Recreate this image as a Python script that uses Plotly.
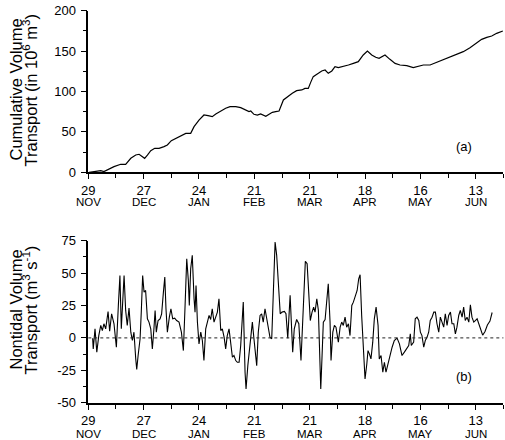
import plotly.graph_objects as go

# ---------------- data (days since 29 Nov) ----------------
cum_day = [0.4, 2.9, 6.3, 7.9, 10.5, 13.0, 16.4, 18.9, 21.5, 24.0, 25.7, 27.3, 28.5, 29.9, 31.6,
           33.6, 35.8, 38.3, 40.0, 42.0, 44.2, 46.8, 49.3, 51.8, 53.5, 56.0, 58.5, 60.6, 62.7, 64.5,
           67.0, 69.5, 71.7, 74.6, 77.1, 79.6, 81.3, 82.2, 83.8, 85.5, 87.2, 89.8, 91.4, 93.1, 94.8,
           96.5, 98.7, 100.7, 103.2, 105.4, 108.0, 109.6, 111.3, 112.5, 113.8, 116.4, 118.1, 119.8,
           121.4, 123.2, 124.8, 126.5, 129.0, 131.6, 134.1, 136.6, 139.1, 141.2, 143.4, 145.4, 147.1,
           150.1, 152.6, 155.2, 157.7, 161.1, 164.4, 167.0, 169.5, 172.9, 176.3, 179.6, 183.0, 186.4,
           189.7, 193.1, 196.5, 199.0, 201.6, 204.1, 206.6, 209.7]
cum_val = [0, 0.8, 2.1, 0.8, 4.1, 7.0, 9.9, 9.9, 17.3, 21.4, 22.3, 19.4, 17.3, 21.4, 26.8,
           29.7, 29.7, 31.8, 33.8, 39.2, 42.1, 45.4, 48.2, 48.2, 56.5, 64.7, 70.9, 70.1, 68.9, 72.2,
           75.9, 79.2, 81.2, 81.2, 80.0, 77.1, 75.1, 75.9, 71.8, 70.9, 72.2, 69.3, 71.8, 74.2, 75.1,
           75.9, 89.5, 93.6, 97.7, 101.0, 101.9, 103.9, 103.9, 111.3, 118.4, 122.5, 125.4, 126.6,
           122.5, 125.4, 130.7, 129.5, 130.7, 132.8, 134.8, 136.9, 145.2, 150.1, 145.2, 142.3, 141.0,
           145.2, 139.8, 134.8, 132.8, 132.0, 129.5, 130.7, 132.8, 132.8, 136.1, 139.8, 143.1, 146.0,
           149.3, 154.2, 160.8, 164.5, 167.0, 168.7, 172.0, 174.8]

flow_day = [2.2, 2.5, 3.4, 4.3, 5.3, 6.3, 7.1, 7.9, 8.8, 10.0, 10.8, 11.8, 13.0, 14.2, 15.2,
            16.0, 16.7, 17.6, 18.1, 18.9, 19.7, 20.6, 21.5, 22.3, 23.1, 24.0, 24.5, 25.2, 26.2, 26.8,
            27.5, 28.2, 29.0, 29.9, 30.7, 31.6, 32.4, 33.2, 33.8, 34.4, 35.3, 36.3, 37.1, 38.0, 38.7,
            39.3, 40.0, 41.0, 41.8, 42.7, 43.7, 44.7, 45.9, 47.1, 48.1,
            48.9, 49.8, 50.6, 51.1, 51.8, 52.6, 53.5, 54.0, 54.5, 55.2, 56.0, 56.9, 57.7, 58.5, 59.4,
            60.2, 61.1, 61.9, 62.7, 63.6, 64.5, 65.3, 66.1, 67.0, 67.8, 68.7, 69.5, 70.3, 71.2, 72.1,
            72.9, 73.7, 74.6, 75.4, 76.3, 77.1, 77.9, 78.4, 79.3, 79.8, 80.7, 81.5, 82.3, 83.0, 83.8,
            84.5, 85.2, 86.0, 86.9, 87.7, 88.5, 89.4, 90.3, 91.1, 91.9, 92.8, 93.6, 94.5, 95.3, 96.1,
            97.1, 98.0, 99.2, 100.0, 100.9, 102.1, 103.4, 104.2, 105.4, 106.5, 107.6, 109.8, 110.7,
            111.5, 112.3, 113.2, 114.0, 114.7, 115.6, 116.4, 117.1, 117.6, 118.2, 118.9, 119.8, 120.6,
            121.4, 122.3, 122.8, 123.7, 124.5, 125.3, 126.5, 127.4, 128.2, 129.0, 129.9, 130.7, 131.6,
            132.4, 133.3, 134.1, 134.9, 136.0, 136.8, 137.5, 138.3, 139.1, 140.0, 140.9, 141.5, 142.2,
            143.0, 143.9, 144.7, 145.6,
            146.6, 147.2, 148.1, 149.0, 149.8, 150.6, 151.5, 152.5, 153.7, 154.8, 156.2, 157.4, 158.7,
            159.9, 161.2, 162.1, 162.9, 163.4, 164.6, 165.4, 166.3, 167.2, 168.0, 168.8, 169.7, 170.5,
            171.4, 172.2, 173.0, 173.9, 174.8, 175.6, 176.4, 177.3, 178.1, 179.0, 179.8, 180.6, 181.5,
            182.3, 183.2, 184.0, 184.9, 185.7, 186.5, 187.4, 188.2, 189.1, 189.9, 190.7, 191.6, 192.5,
            193.3, 194.1, 195.0, 195.8, 196.7, 198.2, 199.5, 200.7, 201.9, 203.2, 204.3]
flow_val = [-0.2, -8.5, 7.0, -11.0, 1.8, 9.6, 5.7, 10.9, 7.0, 20.4, 5.2, 18.6, 10.9, -7.2, 25.0,
            48.2, 7.0, 31.5, 48.2, 21.2, 9.6, 23.0, 4.4, -2.0, 4.4, -16.2, -24.4, -13.6, -0.7, 19.9,
            48.2, 35.3, 36.6, 14.7, 12.2, 7.0, -8.5, 7.0, 21.2, 4.4, 13.4, 14.7, 18.6, 35.3, 46.9,
            22.5, 4.4, 16.0, 22.5, 14.7, 15.2, 13.4, 12.2, 4.4, -9.8,
            22.5, 61.1, 44.4, 25.0, 53.4, 63.7, 30.2, 19.9, 40.5, 12.2, -4.6, 4.4, -2.0, -17.5, 7.0,
            12.2, 17.3, 14.2, 22.5, 12.2, 16.0, 19.9, 30.2, 5.7, 7.0, 0.6, -8.5, 1.8, 7.0, -3.3,
            -14.9, -13.6, -17.5, -18.8, -18.8, -5.9, 14.7, 27.6, -26.5, -39.4, -21.4, -8.5, 7.0, 12.2, -0.7,
            -11.0, -21.4, 4.4, 17.3, 18.6, 12.2, 22.5, 14.7, 7.0, 0.6, -0.7, 43.1, 74.0, 63.7, 43.1,
            18.6, 19.9, 20.4, 18.6, -0.2, 32.8, -11.0, 7.0, 14.2, 10.9, -17.5, 59.1, 57.2,
            35.3, 13.4, 19.9, 23.7, 19.9, 30.2, 21.2, -21.4, -39.4, -16.2, 12.2, 14.2, 30.2,
            41.8, 12.2, -17.5, 4.4, 9.6, 8.3, -3.3, 8.3, 12.2, 9.6, 16.0, 8.3, 10.9,
            1.8, 25.0, 27.6, 31.5, 36.6, 45.6, 48.7, 17.3, -11.0, -31.7, -20.1, -9.8, -12.3,
            -16.2, -3.3, 14.7, 23.7,
            9.6, -16.2, -13.6, -26.5, -18.8, -26.5, -20.1, -13.6, -7.2, -2.0, -0.2, -4.6, -13.6,
            -11.0, -8.5, -5.9, 3.1, -5.9, -3.3, 14.7, 16.0, 13.4, 4.4, 1.8, -7.2, -2.0,
            0.6, 4.4, 13.4, 16.0, 19.9, 19.9, 10.9, 4.4, 16.0, 12.2, 8.3, 18.6, 9.6,
            17.3, 19.9, 10.9, 10.9, 3.1, 8.3, 17.3, 21.2, 16.0, 23.7, 13.4, 16.0, 12.2,
            25.5, 16.0, 12.2, 13.4, 14.7, 8.0, 2.1, 5.0, 10.0, 13.0, 19.6]

day_labels = ["29", "27", "24", "21", "21", "18", "16", "13"]
month_labels = ["NOV", "DEC", "JAN", "FEB", "MAR", "APR", "MAY", "JUN"]
tick_spacing_days = 28
x_end_day = 210

cum_ticks = [0, 50, 100, 150, 200]
flow_ticks = [-50, -25, 0, 25, 50, 75]

# ---------------- layout helpers ----------------
W, H = 505, 440
def px_x(x):
    return x / W
def px_y(y):
    return 1 - y / H

FONT = "Liberation Sans"
major = [tick_spacing_days * i for i in range(len(day_labels))]
minor = [tick_spacing_days * i + tick_spacing_days / 2 for i in range(len(day_labels))]

fig = go.Figure()
fig.add_trace(go.Scatter(x=cum_day, y=cum_val, mode="lines",
                         line=dict(color="black", width=1.2), xaxis="x", yaxis="y",
                         hoverinfo="skip"))
fig.add_trace(go.Scatter(x=flow_day, y=flow_val, mode="lines",
                         line=dict(color="black", width=1.1), xaxis="x2", yaxis="y2",
                         hoverinfo="skip"))

def xaxis_cfg(anchor, standoff):
    return dict(domain=[px_x(88.3), px_x(503.4)], anchor=anchor,
                range=[0, x_end_day], tickmode="array", tickvals=major, ticktext=day_labels,
                ticks="outside", ticklen=5, tickwidth=1.2, tickcolor="black",
                showline=True, linecolor="black", linewidth=2, showgrid=False, zeroline=False,
                tickfont=dict(family=FONT, size=13, color="black"), ticklabelstandoff=standoff,
                minor=dict(tickmode="array", tickvals=minor, ticks="outside", ticklen=4,
                           tickwidth=1.2, tickcolor="black", showgrid=False),
                automargin=False, fixedrange=True)

def yaxis_cfg(anchor, dom, rng, tv, minor_vals):
    return dict(domain=dom, anchor=anchor, range=rng, tickmode="array", tickvals=tv,
                ticktext=[str(v) for v in tv],
                ticks="outside", ticklen=6, tickwidth=1.2, tickcolor="black",
                showline=True, linecolor="black", linewidth=1.5, showgrid=False, zeroline=False,
                tickfont=dict(family=FONT, size=13, color="black"), ticklabelstandoff=2,
                minor=dict(tickmode="array", tickvals=minor_vals, ticks="outside", ticklen=4,
                           tickwidth=1.2, tickcolor="black", showgrid=False),
                automargin=False, fixedrange=True)

cum_minor = [(a + b) / 2 for a, b in zip(cum_ticks[:-1], cum_ticks[1:])]
flow_minor = [(a + b) / 2 for a, b in zip(flow_ticks[:-1], flow_ticks[1:])]

fig.update_layout(
    width=W, height=H, margin=dict(l=0, r=0, t=0, b=0),
    paper_bgcolor="white", plot_bgcolor="white", showlegend=False,
    xaxis=xaxis_cfg("y", 0),
    yaxis=yaxis_cfg("x", [px_y(172.3), px_y(10.7)], [0, 200], cum_ticks, cum_minor),
    xaxis2=xaxis_cfg("y2", 0),
    yaxis2=yaxis_cfg("x2", [px_y(402.7), px_y(240.7)], [-50, 75], flow_ticks, flow_minor),
)

# dashed zero line in panel (b)
fig.add_shape(type="line", xref="x2 domain", x0=0, x1=1, yref="y2", y0=0, y1=0,
              line=dict(color="#222", width=1, dash="3px,3px"))

ann = []
# month names under the day numbers
for d, m in zip(major, month_labels):
    ann.append(dict(x=d, xref="x", y=px_y(195.0), yref="paper", text=m, showarrow=False,
                    borderpad=0, xanchor="center", yanchor="top",
                    font=dict(family=FONT, size=11.5, color="black")))
    ann.append(dict(x=d, xref="x2", y=px_y(426.8), yref="paper", text=m, showarrow=False,
                    borderpad=0, xanchor="center", yanchor="top",
                    font=dict(family=FONT, size=11.5, color="black")))

title_font = dict(family=FONT, size=16.5, color="black")
for xp, yp, txt in [(15.5, 90, "Cumulative Volume"),
                    (30.5, 90, "Transport (in 10<sup>6</sup> m<sup>3</sup>)"),
                    (15.5, 310, "Nontidal Volume"),
                    (30.5, 310, "Transport (m<sup>3</sup> s<sup>-1</sup>)")]:
    ann.append(dict(x=px_x(xp), y=px_y(yp), xref="paper", yref="paper", text=txt,
                    textangle=-90, showarrow=False, xanchor="center", yanchor="middle",
                    font=title_font))

for yp, txt in [(146.7, "(a)"), (376, "(b)")]:
    ann.append(dict(x=px_x(464), y=px_y(yp), xref="paper", yref="paper", text=txt,
                    showarrow=False, xanchor="center", yanchor="middle",
                    font=dict(family=FONT, size=13, color="black")))

fig.update_layout(annotations=ann)

fig.write_html("out.html", config={"displayModeBar": False},
               post_script="document.body.style.margin='0';document.body.style.padding='0';"
                           "document.documentElement.style.overflow='hidden';")
